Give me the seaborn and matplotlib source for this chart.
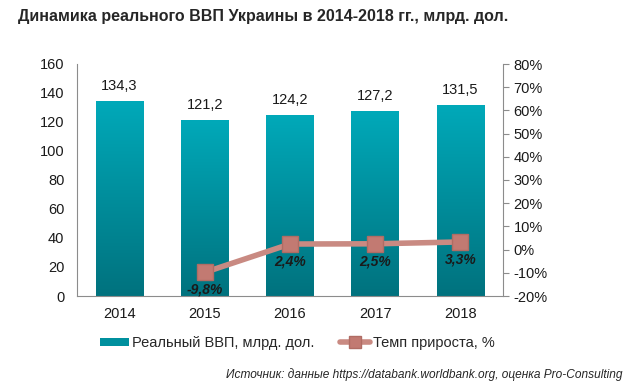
import numpy as np
import pandas as pd
import matplotlib
matplotlib.use("Agg")
import matplotlib.pyplot as plt
import seaborn as sns
from matplotlib.lines import Line2D
from matplotlib.patches import Patch
from matplotlib import font_manager

# data
years = ["2014", "2015", "2016", "2017", "2018"]
gdp = [134.3, 121.2, 124.2, 127.2, 131.5]
growth_years = ["2015", "2016", "2017", "2018"]
growth = [-9.8, 2.4, 2.5, 3.3]

sns.set_style("white")
plt.rcParams['font.family'] = ['Liberation Sans', 'DejaVu Sans']

# condensed face for the title if available
names = {f.name for f in font_manager.fontManager.ttflist}
title_family = ['Liberation Sans Narrow', 'Liberation Sans'] if 'Liberation Sans Narrow' in names else ['Liberation Sans']
title_size = 13.5 if 'Liberation Sans Narrow' in names else 11.5

df = pd.DataFrame({"year": years, "gdp": gdp})

fig = plt.figure(figsize=(6.33, 3.9), dpi=100)
ax = fig.add_axes([77/633, 1-296/390, 426/633, 232/390])

sns.barplot(data=df, x="year", y="gdp", color="#00909e", width=0.56, ax=ax, zorder=2)

# vertical gradient on bars
grad = np.linspace(0, 1, 256).reshape(-1, 1)
cmap = matplotlib.colors.LinearSegmentedColormap.from_list("g", ["#00727e", "#00a9b9"])
for p in ax.patches:
    x0, y0 = p.get_x(), p.get_y()
    w, h = p.get_width(), p.get_height()
    ax.imshow(grad, extent=[x0, x0 + w, y0, y0 + h], origin="lower",
              aspect="auto", cmap=cmap, zorder=2.5)
    ax.text(x0 + w/2, h + 6, f"{h:.1f}".replace(".", ","), ha="center",
            va="bottom", fontsize=10.5, color="#1a1a1a")

ax.set_xlim(-0.5, 4.5)
ax.set_ylim(0, 160)
ax.set_yticks(range(0, 161, 20))
ax.set_xlabel("")
ax.set_ylabel("")
ax.tick_params(axis="both", labelsize=10.5, colors="#1a1a1a", length=0)
ax.tick_params(axis="x", pad=8)
ax.tick_params(axis="y", pad=9)
for s in ["top", "right"]:
    ax.spines[s].set_visible(False)
ax.spines["left"].set_color("#8c8c8c")
ax.spines["bottom"].set_color("#8c8c8c")

ax2 = ax.twinx()
xpos = [years.index(y) for y in growth_years]
ax2.plot(xpos, growth, color="#c98a82", lw=4, marker="s", markersize=11,
         markerfacecolor="#c27a72", markeredgecolor="#b06c64", zorder=4)
ax2.set_ylim(-20, 80)
ax2.set_yticks(range(-20, 81, 10))
ax2.set_yticklabels([f"{v}%" for v in range(-20, 81, 10)])
ax2.tick_params(axis="y", labelsize=10.5, colors="#1a1a1a", length=4, direction="out")
ax2.tick_params(axis="y", color="#8c8c8c")
for s in ["top", "left", "bottom"]:
    ax2.spines[s].set_visible(False)
ax2.spines["right"].set_color("#8c8c8c")
for x, v in zip(xpos, growth):
    ax2.text(x, v - 4.5, f"{v:.1f}%".replace(".", ","), ha="center", va="top",
             fontsize=10, fontweight="bold", fontstyle="italic", color="#1a1a1a")

fig.text(18/633, 1-17/390, "Динамика реального ВВП Украины в 2014-2018 гг., млрд. дол.",
         fontsize=title_size, fontweight="bold", va="center", ha="left",
         family=title_family)

handles = [Patch(facecolor="#00909e", edgecolor="none"),
           Line2D([0], [0], color="#c98a82", lw=4, marker="s", markersize=9,
                  markerfacecolor="#c27a72", markeredgecolor="#b06c64")]
fig.legend(handles, ["Реальный ВВП, млрд. дол.", "Темп прироста, %"],
           loc="center", bbox_to_anchor=(297/633, 1-343/390), ncol=2, frameon=False,
           fontsize=10.5, handlelength=2.0, handleheight=0.5, columnspacing=1.8,
           handletextpad=0.2)

fig.text(622/633, 1-375/390,
         "Источник: данные https://databank.worldbank.org, оценка Pro-Consulting",
         fontsize=8.6, fontstyle="italic", ha="right", va="center")

fig.savefig("out.png", dpi=100)
